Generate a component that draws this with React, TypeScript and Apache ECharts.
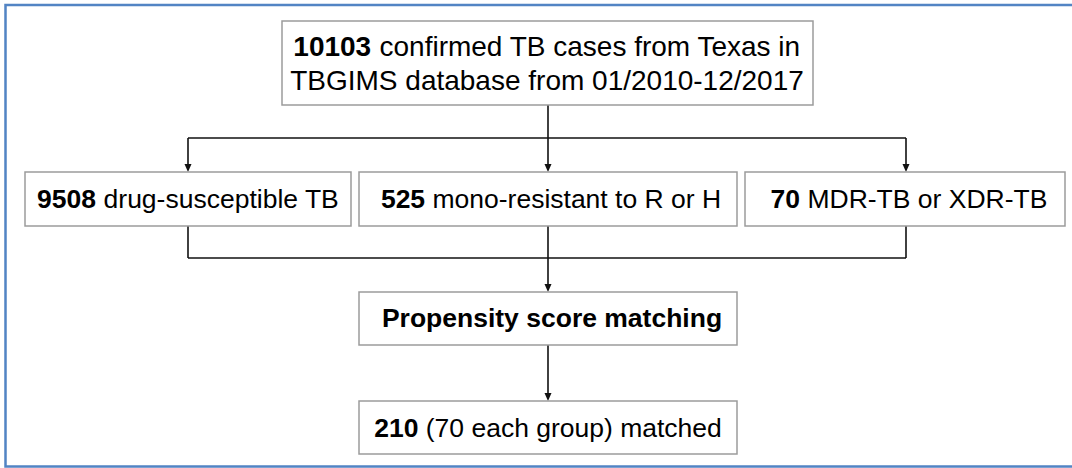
import React, { useEffect, useRef } from "react";
import * as echarts from "echarts";

// Flowchart content
const boxNumbers = ["10103", "9508", "525", "70", "", "210"];
const boxTexts = [
  " confirmed TB cases from Texas in",
  " drug-susceptible TB",
  " mono-resistant to R or H",
  " MDR-TB or XDR-TB",
  "Propensity score matching",
  " (70 each group) matched",
];
const topSecondLine = "TBGIMS database from 01/2010-12/2017";

// Layout (pixels)
const boxes = [
  { x: 282, y: 21, w: 531, h: 84 },
  { x: 25, y: 172, w: 326, h: 54 },
  { x: 359, y: 172, w: 378, h: 54 },
  { x: 745, y: 172, w: 320, h: 54 },
  { x: 359, y: 292, w: 378, h: 53 },
  { x: 359, y: 401, w: 378, h: 53 },
];
const textCenters = [
  { x: 547, y: 46 },
  { x: 188, y: 199 },
  { x: 551, y: 199 },
  { x: 909, y: 199 },
  { x: 552, y: 318 },
  { x: 548, y: 428 },
];
const fontSizes = [28, 26.5, 26.5, 26.5, 26.5, 26.5];

const FONT = "Liberation Sans";
const LINE = "#111";

function arrowHead(x: number, yTip: number) {
  return {
    type: "polygon",
    shape: { points: [[x - 3.5, yTip - 8], [x + 3.5, yTip - 8], [x, yTip]] },
    style: { fill: LINE, stroke: null },
    silent: true,
  };
}

function line(points: number[][]) {
  return {
    type: "polyline",
    shape: { points },
    style: { stroke: LINE, lineWidth: 1.6, fill: null },
    silent: true,
  };
}

export default function App() {
  const ref = useRef<HTMLDivElement>(null);
  useEffect(() => {
    document.body.style.margin = "0";
    if (!ref.current) return;
    const chart = echarts.init(ref.current, null, { renderer: "svg" });
    const elements: any[] = [];
    // outer blue frame
    elements.push({
      type: "rect",
      shape: { x: 5.5, y: 5, width: 1080, height: 461.5 },
      style: { fill: "#fff", stroke: "#5284c4", lineWidth: 2.5 },
      silent: true,
    });
    // connectors
    const cx = [188, 548, 906];
    elements.push(line([[548, 105], [548, 138]]));
    elements.push(line([[cx[0], 138], [cx[2], 138]]));
    cx.forEach((x) => {
      elements.push(line([[x, 138], [x, 166]]));
      elements.push(arrowHead(x, 172));
    });
    cx.forEach((x) => elements.push(line([[x, 226], [x, 258]])));
    elements.push(line([[cx[0], 258], [cx[2], 258]]));
    elements.push(line([[548, 258], [548, 286]]));
    elements.push(arrowHead(548, 292));
    elements.push(line([[548, 345], [548, 395]]));
    elements.push(arrowHead(548, 401));
    // boxes
    boxes.forEach((b) => {
      elements.push({
        type: "rect",
        shape: { x: b.x, y: b.y, width: b.w, height: b.h },
        style: { fill: "#fff", stroke: "#9c9c9c", lineWidth: 1.5 },
        silent: true,
      });
    });
    // texts
    boxTexts.forEach((t, i) => {
      const num = boxNumbers[i];
      const FS = fontSizes[i];
      const isBoldAll = i === 4;
      const text = isBoldAll ? "{b|" + t + "}" : "{b|" + num + "}{n|" + t + "}";
      elements.push({
        type: "text",
        x: textCenters[i].x,
        y: textCenters[i].y,
        style: {
          text,
          align: "center",
          verticalAlign: "middle",
          fill: "#000",
          fontSize: FS,
          fontFamily: FONT,
          rich: {
            b: { fontWeight: "bold", fontSize: FS, fontFamily: FONT, fill: "#000" },
            n: { fontWeight: "normal", fontSize: FS, fontFamily: FONT, fill: "#000" },
          },
        },
        silent: true,
      });
    });
    elements.push({
      type: "text",
      x: 547,
      y: 80,
      style: {
        text: topSecondLine,
        align: "center",
        verticalAlign: "middle",
        fill: "#000",
        fontSize: fontSizes[0],
        fontFamily: FONT,
      },
      silent: true,
    });
    chart.setOption({
      animation: false,
      backgroundColor: "#fff",
      graphic: { elements },
    });
    return () => chart.dispose();
  }, []);
  return <div ref={ref} style={{ width: 1072, height: 468 }} />;
}
